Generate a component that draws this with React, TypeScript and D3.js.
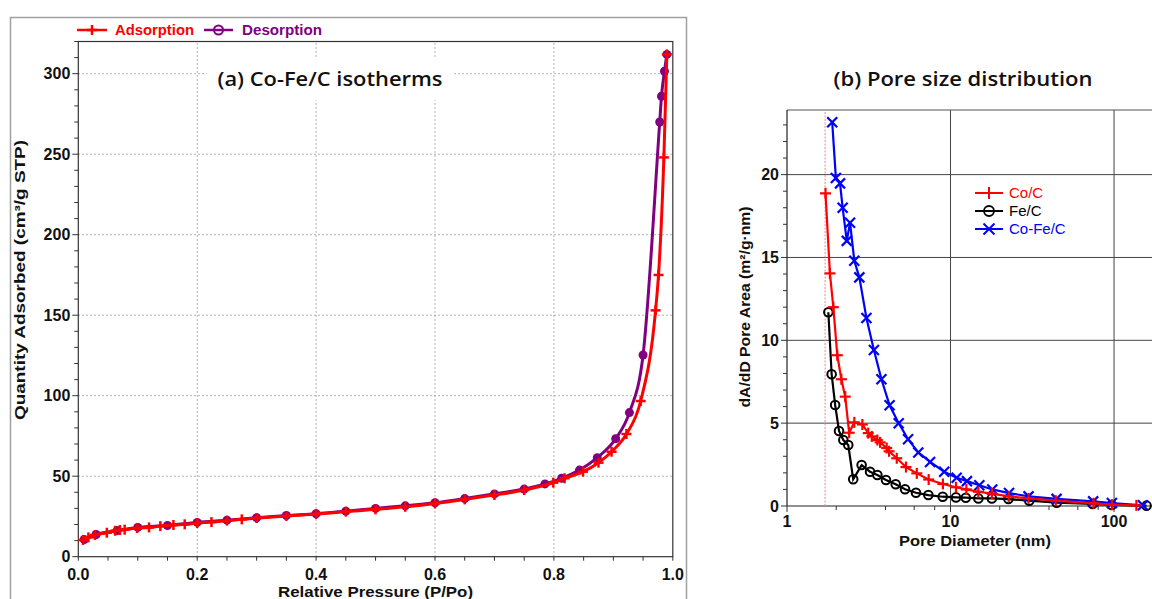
import React from "react";
import * as d3 from "d3";

// ---------- (a) isotherm data ----------
const adsP = [0.008, 0.017, 0.028, 0.048, 0.062, 0.07, 0.078, 0.099, 0.119, 0.138, 0.16, 0.179, 0.2, 0.224, 0.25, 0.275, 0.3, 0.35, 0.4, 0.45, 0.5, 0.55, 0.6, 0.65, 0.7, 0.75, 0.799, 0.818, 0.849, 0.875, 0.897, 0.922, 0.946, 0.971, 0.976, 0.985, 0.99];
const adsQ = [10.4, 12, 13.5, 14.9, 16.1, 16.6, 16.8, 17.8, 18.2, 19, 19.7, 20.1, 20.9, 21.5, 22.4, 23.2, 24, 25.3, 26.5, 28, 29.4, 31, 33.1, 35.6, 38.3, 41.4, 46, 48.7, 52.8, 58.4, 65.2, 76.2, 96.7, 153, 175, 248, 312];
const desP = [0.01, 0.03, 0.065, 0.1, 0.15, 0.2, 0.25, 0.3, 0.35, 0.4, 0.45, 0.5, 0.55, 0.6, 0.65, 0.7, 0.75, 0.785, 0.813, 0.843, 0.873, 0.904, 0.927, 0.95, 0.978, 0.981, 0.986, 0.99];
const desQ = [10.7, 13.8, 16.2, 18.2, 19.4, 21.3, 22.7, 24.2, 25.6, 26.7, 28.3, 30, 31.6, 33.5, 36.1, 39, 42, 45.2, 48.7, 53.8, 61.5, 73.3, 89.5, 125.3, 270, 286, 301.5, 312];
const isoTicksX = [0, 0.2, 0.4, 0.6, 0.8, 1.0];
const isoTicksY = [0, 50, 100, 150, 200, 250, 300];

// ---------- (b) pore size distribution data ----------
const coD = [1.72, 1.83, 1.92, 2.03, 2.15, 2.27, 2.4, 2.58, 2.89, 3.14, 3.3, 3.57, 3.71, 4.07, 4.21, 4.69, 5.34, 6.22, 7.35, 8.98, 10.8, 12.5, 14.8, 17.9, 22.7, 30, 44, 75, 97, 137];
const coA = [18.87, 14.04, 12.0, 9.1, 7.65, 6.6, 4.42, 5.05, 4.92, 4.4, 4.2, 3.98, 3.84, 3.5, 3.3, 2.88, 2.35, 1.97, 1.6, 1.33, 1.13, 1.0, 0.86, 0.75, 0.58, 0.46, 0.32, 0.16, 0.08, 0.04];
const feD = [1.79, 1.875, 1.97, 2.08, 2.21, 2.37, 2.54, 2.86, 3.22, 3.57, 4.03, 4.62, 5.27, 6.15, 7.32, 8.96, 10.8, 12.4, 14.8, 17.9, 22.6, 30.3, 44.6, 74, 96.8, 158];
const feA = [11.69, 7.95, 6.1, 4.53, 3.98, 3.68, 1.61, 2.47, 2.07, 1.87, 1.57, 1.31, 1.01, 0.8, 0.66, 0.56, 0.52, 0.5, 0.46, 0.46, 0.42, 0.32, 0.2, 0.12, 0.06, 0.02];
const cofeD = [1.89, 1.99, 2.11, 2.19, 2.32, 2.43, 2.58, 2.77, 3.06, 3.4, 3.78, 4.24, 4.82, 5.5, 6.35, 7.5, 9.15, 10.9, 12.6, 15.0, 18.0, 22.8, 30, 44.5, 74.5, 97, 150];
const cofeA = [23.16, 19.8, 19.47, 18.0, 16.0, 17.1, 14.8, 13.8, 11.35, 9.41, 7.65, 6.08, 5.0, 4.03, 3.23, 2.66, 2.07, 1.7, 1.5, 1.25, 1.0, 0.78, 0.58, 0.43, 0.28, 0.18, 0.04];
const psdTicksX = [1, 10, 100];
const psdMinorX = [2, 4, 6, 8, 20, 40, 60, 80];
const psdTicksY = [0, 5, 10, 15, 20];
const cutoffD = 1.71;

const RED = "#ff0000";
const PURPLE = "#800080";
const BLUE = "#0000ff";
const BLACK = "#000000";
const ARIAL = "'Liberation Sans', Arial, sans-serif";

function Plus({ x, y, s, c, w }: { x: number; y: number; s: number; c: string; w: number }) {
  return (
    <g stroke={c} strokeWidth={w}>
      <line x1={x - s} x2={x + s} y1={y} y2={y} />
      <line x1={x} x2={x} y1={y - s} y2={y + s} />
    </g>
  );
}
function Cross({ x, y, s, c, w }: { x: number; y: number; s: number; c: string; w: number }) {
  return (
    <g stroke={c} strokeWidth={w}>
      <line x1={x - s} x2={x + s} y1={y - s} y2={y + s} />
      <line x1={x - s} x2={x + s} y1={y + s} y2={y - s} />
    </g>
  );
}

export default function App() {
  const xA = d3.scaleLinear().domain([0, 1]).range([78.3, 672.8]);
  const yA = d3.scaleLinear().domain([0, 320]).range([556.7, 41.5]);
  const xB = d3.scaleLog().domain([1, 191]).range([787, 1160]);
  const yB = d3.scaleLinear().domain([0, 23.9]).range([506, 110]);

  const lineA = d3
    .line<[number, number]>()
    .x((d) => xA(d[0]))
    .y((d) => yA(d[1]))
    .curve(d3.curveMonotoneX);
  const lineB = d3
    .line<[number, number]>()
    .x((d) => xB(d[0]))
    .y((d) => yB(d[1]));

  const ads: [number, number][] = adsP.map((p, i) => [p, adsQ[i]]);
  const des: [number, number][] = desP.map((p, i) => [p, desQ[i]]);
  const co: [number, number][] = coD.map((p, i) => [p, coA[i]]);
  const fe: [number, number][] = feD.map((p, i) => [p, feA[i]]);
  const cofe: [number, number][] = cofeD.map((p, i) => [p, cofeA[i]]);

  const [ax0, ax1] = xA.range();
  const [ay0, ay1] = yA.range();
  const [bx0] = xB.range();
  const bx1 = 1152;
  const [by0, by1] = yB.range();

  const minorYA = d3.range(0, 321, 10);
  const minorXA = d3.range(0, 1.0001, 0.05);
  const minorYB = d3.range(0, 24, 1);

  return (
    <svg
      width={1152}
      height={599}
      style={{ position: "absolute", left: 0, top: 0, background: "#fff" }}
      fontFamily={ARIAL}
    >
      <rect x={0} y={0} width={1152} height={599} fill="#fff" />

      {/* ============ (a) panel ============ */}
      <rect x={10.5} y={17.5} width={676} height={600} fill="none" stroke="#a0a0a0" strokeWidth={1.5} />

      {isoTicksX.slice(1, -1).map((t) => (
        <line key={"gax" + t} x1={xA(t)} x2={xA(t)} y1={ay0} y2={ay1} stroke="#999" strokeDasharray="1.5,2.5" strokeWidth={1} />
      ))}
      {isoTicksY.slice(1).map((t) => (
        <line key={"gay" + t} x1={ax0} x2={ax1} y1={yA(t)} y2={yA(t)} stroke="#999" strokeDasharray="1.5,2.5" strokeWidth={1} />
      ))}

      <rect x={207} y={58} width={246} height={42} fill="#fff" />
      <text x={330} y={86} textAnchor="middle" fontFamily="'Open Sans', sans-serif" fontWeight={600} fontSize={20} fill="#111" textLength={225} lengthAdjust="spacingAndGlyphs">
        (a) Co-Fe/C isotherms
      </text>

      <rect x={ax0} y={ay1} width={ax1 - ax0} height={ay0 - ay1} fill="none" stroke="#333" strokeWidth={1.2} />

      {minorYA.map((t) => (
        <line key={"tya" + t} x1={ax0 - (t % 50 === 0 ? 6 : 4)} x2={ax0} y1={yA(t)} y2={yA(t)} stroke="#333" strokeWidth={1} />
      ))}
      {isoTicksY.map((t) => (
        <text key={"lya" + t} x={ax0 - 8} y={yA(t) + 5.5} textAnchor="end" fontSize={16} fontWeight="bold" fill="#111">
          {t}
        </text>
      ))}
      {minorXA.map((t) => (
        <line key={"txa" + t} x1={xA(t)} x2={xA(t)} y1={ay0} y2={ay0 + 4} stroke="#333" strokeWidth={1} />
      ))}
      {isoTicksX.map((t) => (
        <text key={"lxa" + t} x={xA(t)} y={580} textAnchor="middle" fontSize={16} fontWeight="bold" fill="#111">
          {t.toFixed(1)}
        </text>
      ))}

      <text x={xA(0.5)} y={597} textAnchor="middle" fontSize={14} fontWeight="bold" fill="#111" textLength={195} lengthAdjust="spacingAndGlyphs">
        Relative Pressure (P/Po)
      </text>
      <text transform="translate(25,280) rotate(-90)" textAnchor="middle" fontSize={14} fontWeight="bold" fill="#111" textLength={280} lengthAdjust="spacingAndGlyphs">
        Quantity Adsorbed (cm³/g STP)
      </text>

      <line x1={77} x2={107} y1={30} y2={30} stroke={RED} strokeWidth={2.5} />
      <Plus x={92} y={30} s={5} c={RED} w={2.5} />
      <text x={115} y={35} fontSize={14} fontWeight="bold" fill={RED} textLength={79} lengthAdjust="spacingAndGlyphs">
        Adsorption
      </text>
      <line x1={204} x2={233} y1={30} y2={30} stroke={PURPLE} strokeWidth={2.5} />
      <circle cx={218.5} cy={30} r={4.5} fill="none" stroke={PURPLE} strokeWidth={2} />
      <text x={242} y={35} fontSize={14} fontWeight="bold" fill={PURPLE} textLength={80} lengthAdjust="spacingAndGlyphs">
        Desorption
      </text>

      <path d={lineA(des) || ""} fill="none" stroke={PURPLE} strokeWidth={3} />
      {des.map((d, i) => (
        <circle key={"dm" + i} cx={xA(d[0])} cy={yA(d[1])} r={4.5} fill={PURPLE} />
      ))}
      <path d={lineA(ads) || ""} fill="none" stroke={RED} strokeWidth={3} />
      {ads.map((d, i) => (
        <Plus key={"am" + i} x={xA(d[0])} y={yA(d[1])} s={5} c={RED} w={2.5} />
      ))}

      {/* ============ (b) panel ============ */}
      <text x={963} y={86} textAnchor="middle" fontFamily="'Open Sans', sans-serif" fontWeight={600} fontSize={20} fill="#111" textLength={259} lengthAdjust="spacingAndGlyphs">
        (b) Pore size distribution
      </text>

      {psdTicksX.slice(1).map((t) => (
        <line key={"gbx" + t} x1={xB(t)} x2={xB(t)} y1={by0} y2={by1} stroke="#444" strokeWidth={1} />
      ))}
      {psdTicksY.slice(1).map((t) => (
        <line key={"gby" + t} x1={bx0} x2={bx1} y1={yB(t)} y2={yB(t)} stroke="#444" strokeWidth={1} />
      ))}
      <line x1={bx0} x2={bx1} y1={by1} y2={by1} stroke="#555" strokeWidth={1} />
      <line x1={bx0} x2={bx1} y1={by0} y2={by0} stroke="#222" strokeWidth={1.2} />
      <line x1={bx0} x2={bx0} y1={by0} y2={by1} stroke="#222" strokeWidth={1.2} />

      <line x1={xB(cutoffD)} x2={xB(cutoffD)} y1={by0} y2={by1} stroke="#ff8080" strokeWidth={1} strokeDasharray="2,1.5" />

      {minorYB.map((t) => (
        <line key={"tyb" + t} x1={bx0 - (t % 5 === 0 ? 6 : 4)} x2={bx0} y1={yB(t)} y2={yB(t)} stroke="#333" strokeWidth={1} />
      ))}
      {psdTicksY.map((t) => (
        <text key={"lyb" + t} x={bx0 - 8} y={yB(t) + 5.5} textAnchor="end" fontSize={16} fontWeight="bold" fill="#111">
          {t}
        </text>
      ))}
      {psdTicksX.concat(psdMinorX).map((t) => (
        <line key={"txb" + t} x1={xB(t)} x2={xB(t)} y1={by0} y2={by0 + (psdTicksX.includes(t) ? 6 : 4)} stroke="#333" strokeWidth={1} />
      ))}
      {psdTicksX.map((t) => (
        <text key={"lxb" + t} x={xB(t)} y={527} textAnchor="middle" fontSize={16} fontWeight="bold" fill="#111">
          {t}
        </text>
      ))}

      <text x={975} y={546} textAnchor="middle" fontSize={14} fontWeight="bold" fill="#111" textLength={152} lengthAdjust="spacingAndGlyphs">
        Pore Diameter (nm)
      </text>
      <text transform="translate(750,307) rotate(-90)" textAnchor="middle" fontSize={14} fontWeight="bold" fill="#111" textLength={201} lengthAdjust="spacingAndGlyphs">
        dA/dD Pore Area (m²/g·nm)
      </text>

      <path d={lineB(fe) || ""} fill="none" stroke={BLACK} strokeWidth={2.2} />
      {fe.map((d, i) => (
        <circle key={"fm" + i} cx={xB(d[0])} cy={yB(d[1])} r={4.3} fill="none" stroke={BLACK} strokeWidth={2} />
      ))}
      <path d={lineB(cofe) || ""} fill="none" stroke={BLUE} strokeWidth={2.2} />
      {cofe.map((d, i) => (
        <Cross key={"cfm" + i} x={xB(d[0])} y={yB(d[1])} s={5} c={BLUE} w={2.2} />
      ))}
      <path d={lineB(co) || ""} fill="none" stroke={RED} strokeWidth={2.2} />
      {co.map((d, i) => (
        <Plus key={"cm" + i} x={xB(d[0])} y={yB(d[1])} s={5.5} c={RED} w={2.2} />
      ))}

      <line x1={975} x2={1003} y1={193} y2={193} stroke={RED} strokeWidth={2} />
      <Plus x={989} y={193} s={6} c={RED} w={2} />
      <text x={1009} y={198} fontSize={15} fill={RED}>Co/C</text>
      <line x1={975} x2={1003} y1={211} y2={211} stroke={BLACK} strokeWidth={2} />
      <circle cx={989} cy={211} r={5} fill="none" stroke={BLACK} strokeWidth={1.8} />
      <text x={1009} y={216} fontSize={15} fill={BLACK}>Fe/C</text>
      <line x1={975} x2={1003} y1={229} y2={229} stroke={BLUE} strokeWidth={2} />
      <Cross x={989} y={229} s={5.5} c={BLUE} w={2} />
      <text x={1009} y={234} fontSize={15} fill={BLUE}>Co-Fe/C</text>
    </svg>
  );
}
